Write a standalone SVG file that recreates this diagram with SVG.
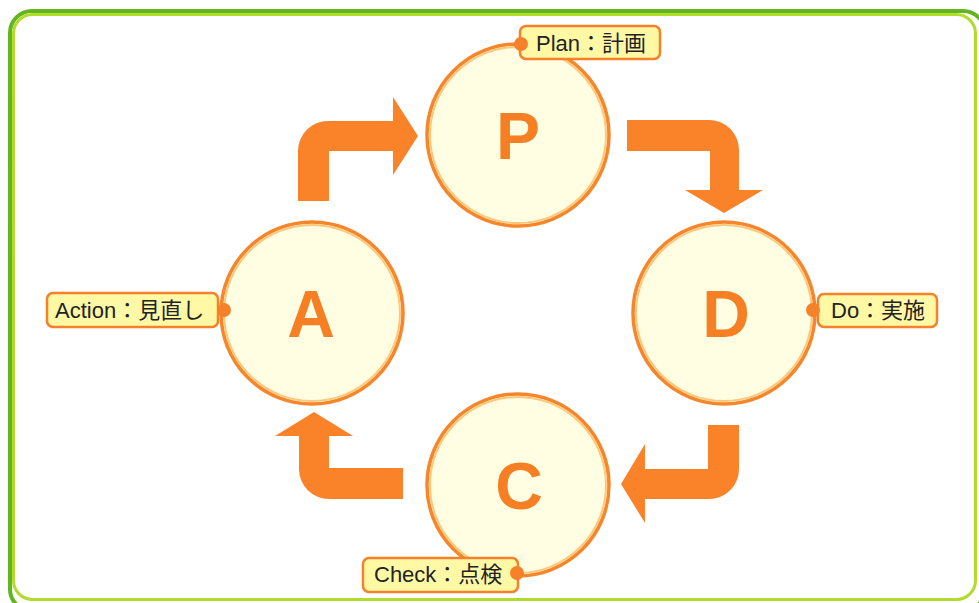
<svg xmlns="http://www.w3.org/2000/svg" width="979" height="603" viewBox="0 0 979 603">
<style>
.ring{fill:#fffde2;stroke:#f5862c;stroke-width:3.5}
.inring{fill:none;stroke:#ffc77a;stroke-width:2}
.letter{font-family:"Liberation Sans",Arial,sans-serif;font-weight:bold;font-size:66px;fill:#f57f22;text-anchor:middle}
.lbox{fill:#fff9a6;stroke:#f5812a;stroke-width:2.5}
.ltext{font-family:"Liberation Sans","Noto Sans CJK JP",sans-serif;font-size:22px;fill:#222}
.dot{fill:#f5812a}
.arrow{fill:#fa8228}
</style>
<rect x="0" y="0" width="979" height="603" fill="#ffffff"/>
<rect x="10" y="11" width="975" height="600" rx="22" fill="none" stroke="#62b420" stroke-width="4"/>
<rect x="13.5" y="14.5" width="962" height="585" rx="19" fill="none" stroke="#b2dc2c" stroke-width="3"/>
<g id="connectors">
<path class="arrow" d="M298,201 V151 A30,30 0 0 1 328,121 H393 V97 L418,136 L393,175 V151 H329 V201 Z"/>
<path class="arrow" d="M627,120 H709 A30,30 0 0 1 739,150 V190 H763 L724,213 L685,190 H710 V151 H627 Z"/>
<path class="arrow" d="M739,425 V469 A30,30 0 0 1 709,499 H645 V523 L621,484 L645,444 V469 H708 V425 Z"/>
<path class="arrow" d="M403,499 H329 A30,30 0 0 1 299,469 V436 H275 L314,412 L353,436 H329 V468 H403 Z"/>
</g>
<g id="node-P">
<circle class="ring" cx="518" cy="135" r="91"/>
<circle class="inring" cx="518" cy="135" r="88"/>
<text class="letter" x="518" y="159">P</text>
</g>
<g id="node-D">
<circle class="ring" cx="724" cy="313" r="91"/>
<circle class="inring" cx="724" cy="313" r="88"/>
<text class="letter" x="726" y="337">D</text>
</g>
<g id="node-C">
<circle class="ring" cx="518" cy="485" r="91"/>
<circle class="inring" cx="518" cy="485" r="88"/>
<text class="letter" x="519" y="509">C</text>
</g>
<g id="node-A">
<circle class="ring" cx="312" cy="313" r="91"/>
<circle class="inring" cx="312" cy="313" r="88"/>
<text class="letter" x="311" y="337">A</text>
</g>
<g id="label-plan">
<rect class="lbox" x="520" y="26" width="140" height="33" rx="6"/>
<circle class="dot" cx="521" cy="44" r="7"/>
<text class="ltext" x="536" y="51">Plan：計画</text>
</g>
<g id="label-do">
<rect class="lbox" x="818" y="294" width="119" height="33" rx="6"/>
<circle class="dot" cx="813" cy="310" r="7"/>
<text class="ltext" x="831" y="318">Do：実施</text>
</g>
<g id="label-check">
<rect class="lbox" x="363" y="558" width="155" height="34" rx="6"/>
<circle class="dot" cx="517" cy="573" r="7"/>
<text class="ltext" x="374" y="582">Check：点検</text>
</g>
<g id="label-action">
<rect class="lbox" x="47" y="293" width="171" height="34" rx="6"/>
<circle class="dot" cx="224" cy="310" r="7"/>
<text class="ltext" x="55" y="318">Action：見直し</text>
</g>
</svg>
